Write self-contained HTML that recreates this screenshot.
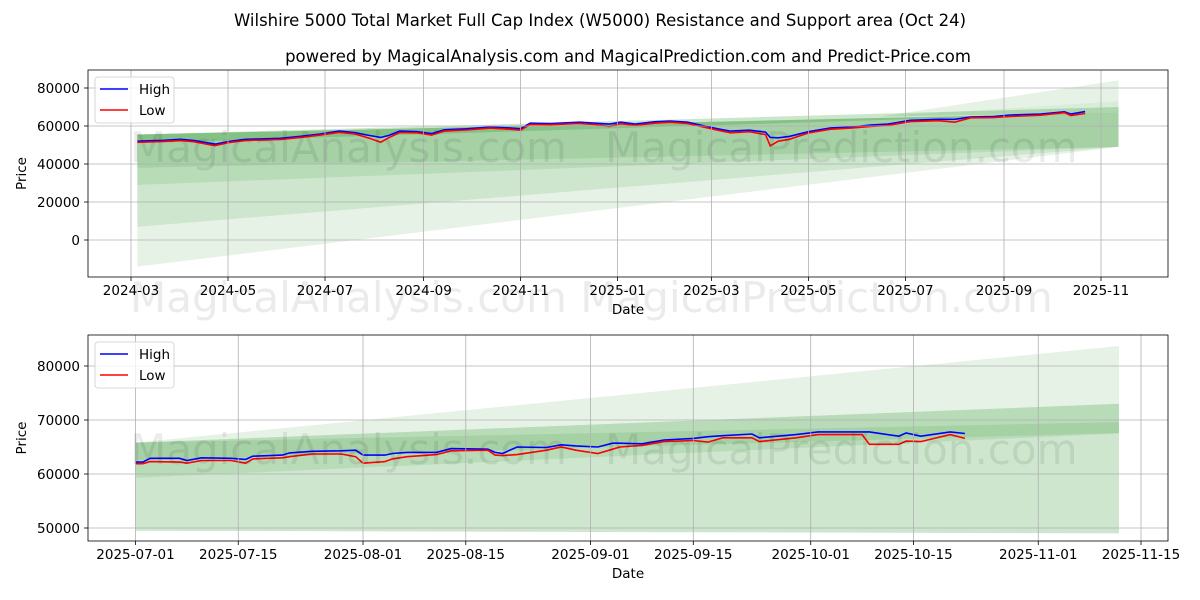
<!DOCTYPE html>
<html><head><meta charset="utf-8"><style>
body{margin:0;background:#fff;}
svg{display:block;font-family:"DejaVu Sans","Liberation Sans",sans-serif;}
</style></head><body>
<svg id="chart" width="1200" height="600" viewBox="0 0 1200 600" xmlns="http://www.w3.org/2000/svg">
<text x="600" y="26" text-anchor="middle" font-size="16.5">Wilshire 5000 Total Market Full Cap Index (W5000) Resistance and Support area (Oct 24)</text>
<text x="628" y="62" text-anchor="middle" font-size="16.5">powered by MagicalAnalysis.com and MagicalPrediction.com and Predict-Price.com</text>
<g id="top"></g>
<g id="bot"></g>
</svg>
<script>
// ---- Top chart data ----
const topDates = ["2024-03-05","2024-03-12","2024-03-22","2024-04-01","2024-04-10","2024-04-19","2024-04-23","2024-05-01","2024-05-12","2024-05-22","2024-06-03","2024-06-15","2024-06-28","2024-07-10","2024-07-20","2024-07-29","2024-08-05","2024-08-10","2024-08-17","2024-08-28","2024-09-06","2024-09-14","2024-09-28","2024-10-13","2024-10-25","2024-11-01","2024-11-07","2024-11-20","2024-12-08","2024-12-18","2024-12-27","2025-01-03","2025-01-12","2025-01-24","2025-02-03","2025-02-14","2025-02-22","2025-03-05","2025-03-13","2025-03-25","2025-04-04","2025-04-07","2025-04-12","2025-04-19","2025-05-01","2025-05-15","2025-05-28","2025-06-09","2025-06-20","2025-07-04","2025-07-22","2025-08-01","2025-08-11","2025-08-25","2025-09-05","2025-09-24","2025-10-09","2025-10-13","2025-10-22"];
const topHigh = [52000,52200,52500,53000,52300,51000,50500,51800,53000,53200,53500,54500,55800,57300,56500,55000,54000,55000,57300,57000,56000,58000,58500,59500,59000,58500,61500,61300,62000,61500,61000,62000,61000,62200,62600,62000,60500,58500,57300,57800,56800,54000,53800,54500,57000,59000,59500,60500,61000,63000,63500,63500,64700,65000,65800,66300,67500,66300,67600];
const topLow = [51400,51600,51900,52400,51700,50200,49700,51200,52400,52600,52900,53900,55200,56700,55800,53500,51500,53800,56600,56400,55200,57300,57900,58900,58300,57800,60800,60700,61300,60800,59800,61200,60300,61500,62000,61300,59800,57800,56400,57000,55500,49500,52000,53000,56300,58300,58900,59800,60300,62300,62800,62000,64300,64400,65000,65700,67000,65500,66600];
const topYTicks = [0,20000,40000,60000,80000];
const topXTicks = ["2024-03","2024-05","2024-07","2024-09","2024-11","2025-01","2025-03","2025-05","2025-07","2025-09","2025-11"];
// bands: [startTop,startBottom,endTop,endBottom,opacity]
const topBands = [[55500,-14000,67000,49000,0.1],[55500,7000,67000,49000,0.1],[55500,29000,67000,49000,0.1],[55500,38000,67000,49000,0.1],[55500,51000,70000,67000,0.2]];
const topWedges = [[65000,84000,73000,0.1],[65000,73000,67000,0.15]];

// ---- Bottom chart data ----
const botDates = ["2025-07-01","2025-07-02","2025-07-03","2025-07-07","2025-07-08","2025-07-10","2025-07-14","2025-07-16","2025-07-17","2025-07-21","2025-07-22","2025-07-25","2025-07-29","2025-07-31","2025-08-01","2025-08-04","2025-08-05","2025-08-07","2025-08-11","2025-08-13","2025-08-18","2025-08-19","2025-08-20","2025-08-22","2025-08-26","2025-08-28","2025-08-30","2025-09-02","2025-09-04","2025-09-05","2025-09-08","2025-09-11","2025-09-15","2025-09-17","2025-09-19","2025-09-23","2025-09-24","2025-09-29","2025-10-02","2025-10-08","2025-10-09","2025-10-13","2025-10-14","2025-10-16","2025-10-20","2025-10-22"];
const botHigh = [62200,62200,62900,62900,62500,63000,62900,62700,63300,63500,63900,64200,64300,64400,63500,63500,63800,64000,64000,64700,64600,64000,63800,65000,64900,65400,65200,65000,65700,65700,65600,66300,66600,66900,67100,67400,66700,67300,67800,67800,67800,67000,67600,67000,67800,67500];
const botLow = [61900,61900,62300,62200,62000,62500,62500,62000,62800,63000,63200,63700,63700,63200,62000,62300,62800,63200,63600,64300,64400,63500,63400,63600,64400,65000,64400,63800,64600,65000,65300,66000,66200,65900,66700,66700,66000,66700,67300,67300,65500,65500,66100,66000,67300,66600];
const botYTicks = [50000,60000,70000,80000];
const botXTicks = ["2025-07-01","2025-07-15","2025-08-01","2025-08-15","2025-09-01","2025-09-15","2025-10-01","2025-10-15","2025-11-01","2025-11-15"];
const botBands = [[65800,49500,83700,49000,0.1],[65800,49500,73000,49000,0.1],[65800,59300,73000,67500,0.1],[65800,62500,69600,67600,0.1]];

const NS="http://www.w3.org/2000/svg";
function el(parent,tag,attrs,text){const e=document.createElementNS(NS,tag);for(const k in attrs)e.setAttribute(k,attrs[k]);if(text!==undefined)e.textContent=text;parent.appendChild(e);return e;}
const dnum=s=>{const p=s.split("-").map(Number);return Date.UTC(p[0],p[1]-1,p[2]||1)/86400000;};

function panel(g,cfg){
  const {x0,x1,y0,y1,dA,pA,dB,pB,vA,yA,vB,yB}=cfg;
  const sx=d=>pA+(dnum(d)-dnum(dA))*(pB-pA)/(dnum(dB)-dnum(dA));
  const sy=v=>yA+(v-vA)*(yB-yA)/(vB-vA);
  const clip=el(g,"clipPath",{id:cfg.id+"clip"});el(clip,"rect",{x:x0,y:y0,width:x1-x0,height:y1-y0});
  const inner=el(g,"g",{"clip-path":"url(#"+cfg.id+"clip)"});
  const bs=cfg.bandStart,be=cfg.bandEnd;
  cfg.bands.forEach((b,i)=>{
    const p=el(inner,"polygon",{points:`${sx(bs)},${sy(b[0])} ${sx(be)},${sy(b[2])} ${sx(be)},${sy(b[3])} ${sx(bs)},${sy(b[1])}`,fill:"green","fill-opacity":b[4]});
    
    
  });
  (cfg.wedges||[]).forEach((w,i)=>{
    const p=el(inner,"polygon",{points:`${sx(cfg.wedgeStart)},${sy(w[0])} ${sx(be)},${sy(w[1])} ${sx(be)},${sy(w[2])}`,fill:"green","fill-opacity":w[3]});
    
    
  });
  cfg.xt.forEach(t=>{const x=sx(t);
    const l=el(g,"line",{x1:x,x2:x,y1:y0,y2:y1,stroke:"#b0b0b0","stroke-width":0.8});
    
    
    el(g,"line",{x1:x,x2:x,y1:y1,y2:y1+4,stroke:"#000","stroke-width":0.8});
    const tx=el(g,"text",{x:x,y:y1+18,"text-anchor":"middle","font-size":13.5},t);
    
    
  });
  cfg.yt.forEach(v=>{const y=sy(v);
    const l=el(g,"line",{x1:x0,x2:x1,y1:y,y2:y,stroke:"#b0b0b0","stroke-width":0.8});
    
    
    el(g,"line",{x1:x0-4,x2:x0,y1:y,y2:y,stroke:"#000","stroke-width":0.8});
    const tx=el(g,"text",{x:x0-8,y:y+5,"text-anchor":"end","font-size":13.5},String(v));
    
    
  });
  const w1=el(g,"text",{x:cfg.wmX1,y:cfg.wmY,"font-size":42,fill:"#000","fill-opacity":0.08},"MagicalAnalysis.com");
  
  
  const w2=el(g,"text",{x:cfg.wmX2,y:cfg.wmY,"font-size":42,fill:"#000","fill-opacity":0.08},"MagicalPrediction.com");
  
  
  const pts=(ds,vs)=>ds.map((d,i)=>sx(d).toFixed(1)+","+sy(vs[i]).toFixed(1)).join(" ");
  const hl=el(inner,"polyline",{points:pts(cfg.dates,cfg.high),fill:"none",stroke:"#0000ff","stroke-width":1.6});
  
  
  const ll=el(inner,"polyline",{points:pts(cfg.dates,cfg.low),fill:"none",stroke:"#ff0000","stroke-width":1.6});
  
  
  el(g,"rect",{x:x0,y:y0,width:x1-x0,height:y1-y0,fill:"none",stroke:"#000","stroke-width":0.8});
  const xl=el(g,"text",{x:(x0+x1)/2,y:y1+37,"text-anchor":"middle","font-size":13.5},"Date");
  
  
  const yl=el(g,"text",{x:0,y:0,"text-anchor":"middle","font-size":13.5,transform:`translate(26,${(y0+y1)/2}) rotate(-90)`},"Price");
  
  
  const lg=el(g,"g",{});
  
  
  el(lg,"rect",{x:x0+7,y:y0+7,width:79,height:46,rx:3,fill:"#fff","fill-opacity":0.8,stroke:"#ccc","stroke-width":0.8});
  el(lg,"line",{x1:x0+12,x2:x0+40,y1:y0+19,y2:y0+19,stroke:"#0000ff","stroke-width":1.6});
  const t1=el(lg,"text",{x:x0+51,y:y0+24,"font-size":13.5},"High");
  
  
  el(lg,"line",{x1:x0+12,x2:x0+40,y1:y0+40,y2:y0+40,stroke:"#ff0000","stroke-width":1.6});
  const t2=el(lg,"text",{x:x0+51,y:y0+45,"font-size":13.5},"Low");
  
  
}
panel(document.getElementById("top"),{id:"t",x0:88,x1:1168,y0:70,y1:277,dA:"2024-03-01",pA:131,dB:"2025-11-01",pB:1101,vA:0,yA:240,vB:80000,yB:88,
  xt:topXTicks,yt:topYTicks,bands:topBands,bandStart:"2024-03-05",bandEnd:"2025-11-12",wedges:topWedges,wedgeStart:"2025-06-15",
  dates:topDates,high:topHigh,low:topLow,wmX1:130,wmX2:605,wmY:162});
panel(document.getElementById("bot"),{id:"b",x0:88,x1:1168,y0:335,y1:541,dA:"2025-07-01",pA:135.5,dB:"2025-11-15",pB:1141,vA:50000,yA:528,vB:80000,yB:366,
  xt:botXTicks,yt:botYTicks,bands:botBands,bandStart:"2025-07-01",bandEnd:"2025-11-12",
  dates:botDates,high:botHigh,low:botLow,wmX1:130,wmX2:605,wmY:464});
const gw=el(document.getElementById("chart"),"text",{x:130,y:312,"font-size":42,fill:"#000","fill-opacity":0.08},"MagicalAnalysis.com     MagicalPrediction.com");


</script>
</body></html>
